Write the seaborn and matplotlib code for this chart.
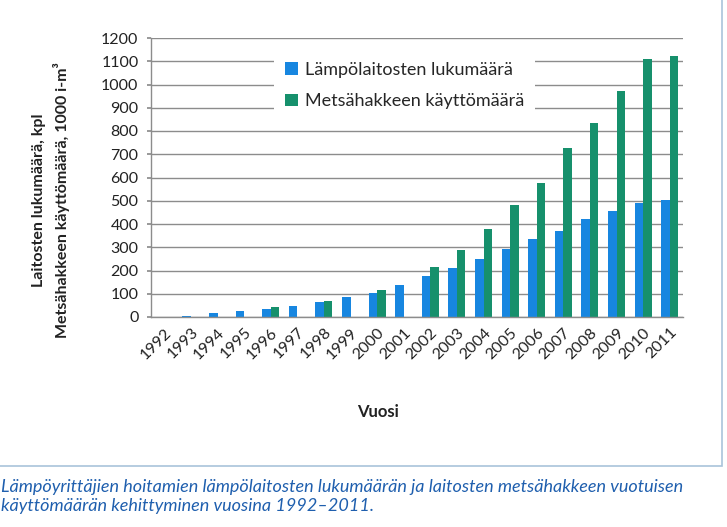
import matplotlib
matplotlib.use("Agg")
import matplotlib.pyplot as plt
import seaborn as sns
import pandas as pd
from matplotlib.patches import Rectangle

years = [str(y) for y in range(1992, 2012)]
laitokset = [0, 3, 17, 26, 34, 48, 65, 87, 104, 136, 176, 212, 250, 293, 337, 370, 421, 455, 489, 503]
hake = [0, 0, 0, 0, 44, 0, 68, 0, 117, 0, 213, 288, 378, 480, 577, 726, 836, 973, 1111, 1124]
series_names = ["Lämpölaitosten lukumäärä", "Metsähakkeen käyttömäärä"]
colors = ["#1786E0", "#16906C"]
yticks = list(range(0, 1300, 100))

df = pd.DataFrame({"Vuosi": years, series_names[0]: laitokset, series_names[1]: hake})
long = df.melt(id_vars="Vuosi", var_name="Sarja", value_name="Arvo")

sns.set_theme(style="white")
plt.rcParams["font.family"] = ["Lato", "DejaVu Sans"]

fig = plt.figure(figsize=(7.27, 5.27), dpi=100)
ax = fig.add_axes([151 / 727, 1 - 317 / 527, 532 / 727, 279 / 527])

sns.barplot(data=long, x="Vuosi", y="Arvo", hue="Sarja", order=years,
            hue_order=series_names, palette=colors, width=0.64,
            saturation=1, ax=ax, linewidth=0)

ax.set_xlim(-0.5, len(years) - 0.5)
ax.set_ylim(0, 1200)
ax.set_yticks(yticks)
ax.set_yticklabels([str(t) for t in yticks], fontsize=11.5, color="#222222")
ax.set_axisbelow(True)
ax.yaxis.grid(True, color="#8c8c8c", lw=1)
ax.xaxis.grid(False)

for s in ["top", "right"]:
    ax.spines[s].set_visible(False)
for s in ["left", "bottom"]:
    ax.spines[s].set_color("#8c8c8c")
    ax.spines[s].set_linewidth(1)

ax.set_xticks(range(len(years)))
ax.set_xticklabels(years, rotation=45, ha="right", rotation_mode="anchor",
                   fontsize=11.5, color="#222222")
ax.set_xticks([i - 0.5 for i in range(len(years) + 1)], minor=True)
ax.tick_params(axis="x", which="major", length=0, pad=6)
ax.tick_params(axis="x", which="minor", length=4, color="#8c8c8c", direction="out")
ax.tick_params(axis="y", length=3, color="#8c8c8c", direction="out", pad=6)
ax.tick_params(left=True, bottom=True)

ax.set_xlabel("")
ax.set_ylabel("Laitosten lukumäärä, kpl\nMetsähakkeen käyttömäärä, 1000 i-m³",
              fontsize=11.5, fontweight="bold", color="#222222", linespacing=1.5)
ax.yaxis.set_label_coords(-0.152, 0.42)

fig.text(378 / 727, 1 - 412 / 527, "Vuosi", fontsize=12, fontweight="bold",
         color="#222222", ha="center", va="center")

leg = ax.legend(loc="upper left", bbox_to_anchor=(0.215, 0.985), fontsize=13,
                frameon=True, facecolor="white", edgecolor="none", framealpha=1,
                handlelength=0.7, handleheight=0.7, handletextpad=0.4,
                labelspacing=0.85, borderpad=0.6, fancybox=False, title=None)
leg.get_frame().set_linewidth(0)

fig.patches.append(Rectangle((-0.01, 1 - 466 / 527), 722 / 727 + 0.01, 466 / 527 + 0.02,
                             transform=fig.transFigure, fill=False,
                             edgecolor="#a9c4da", lw=1.2))

fig.text(0.002, 1 - 479 / 527,
         "Lämpöyrittäjien hoitamien lämpölaitosten lukumäärän ja laitosten metsähakkeen vuotuisen\n"
         "käyttömäärän kehittyminen vuosina 1992–2011.",
         fontsize=13, style="italic", color="#1f5fae", ha="left", va="top",
         linespacing=1.2)

fig.savefig("out.png", dpi=100, facecolor="white")
